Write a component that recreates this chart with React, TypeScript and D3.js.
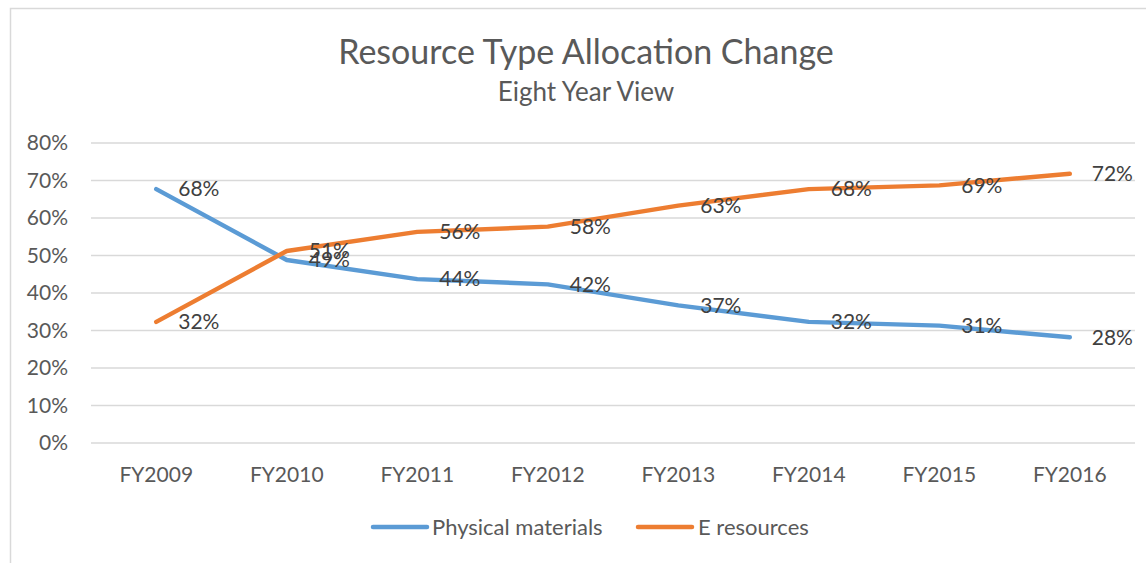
import { useEffect, useRef } from 'react';
import * as d3 from 'd3';

const years = ['FY2009', 'FY2010', 'FY2011', 'FY2012', 'FY2013', 'FY2014', 'FY2015', 'FY2016'];
const physical = [67.7, 48.8, 43.7, 42.3, 36.7, 32.3, 31.3, 28.2];
const eResources = [32.3, 51.2, 56.3, 57.7, 63.3, 67.7, 68.7, 71.8];
const yTicks = [0, 10, 20, 30, 40, 50, 60, 70, 80];
const seriesNames = ['Physical materials', 'E resources'];
const seriesColors = ['#5B9BD5', '#ED7D31'];

const WIDTH = 1146;
const HEIGHT = 563;
const FONT = 'Lato, Carlito, Calibri, sans-serif';

export default function App() {
  const svgRef = useRef<SVGSVGElement>(null);

  useEffect(() => {
    const svg = d3.select(svgRef.current);
    svg.selectAll('*').remove();

    const margin = { top: 143, right: 11, bottom: 120, left: 91 };
    const chartWidth = WIDTH - margin.left - margin.right;
    const chartHeight = HEIGHT - margin.top - margin.bottom;

    // chart frame
    svg.append('rect')
      .attr('x', 10.5)
      .attr('y', 8.5)
      .attr('width', WIDTH + 10)
      .attr('height', HEIGHT + 10)
      .attr('fill', 'white')
      .attr('stroke', '#D9D9D9')
      .attr('stroke-width', 1.5);

    // titles
    svg.append('text')
      .attr('x', 586)
      .attr('y', 64)
      .attr('text-anchor', 'middle')
      .style('font-family', FONT)
      .style('font-size', '34px')
      .attr('fill', '#595959')
      .text('Resource Type Allocation Change');

    svg.append('text')
      .attr('x', 586)
      .attr('y', 101)
      .attr('text-anchor', 'middle')
      .style('font-family', FONT)
      .style('font-size', '26px')
      .attr('fill', '#595959')
      .text('Eight Year View');

    const g = svg.append('g')
      .attr('transform', `translate(${margin.left},${margin.top})`);

    const x = d3.scaleBand<string>()
      .domain(years)
      .range([0, chartWidth]);

    const y = d3.scaleLinear()
      .domain([0, 80])
      .range([chartHeight, 0]);

    // grid lines
    g.selectAll('.grid')
      .data(yTicks)
      .enter()
      .append('line')
      .attr('class', 'grid')
      .attr('x1', 0)
      .attr('x2', chartWidth)
      .attr('y1', d => y(d))
      .attr('y2', d => y(d))
      .attr('stroke', '#D9D9D9')
      .attr('stroke-width', 1.5);

    // y axis labels
    g.selectAll('.ytick')
      .data(yTicks)
      .enter()
      .append('text')
      .attr('class', 'ytick')
      .attr('x', -23)
      .attr('y', d => y(d))
      .attr('dy', '0.35em')
      .attr('text-anchor', 'end')
      .style('font-family', FONT)
      .style('font-size', '21px')
      .attr('fill', '#595959')
      .text(d => `${d}%`);

    // x axis labels
    g.selectAll('.xtick')
      .data(years)
      .enter()
      .append('text')
      .attr('class', 'xtick')
      .attr('x', d => x(d)! + x.bandwidth() / 2)
      .attr('y', chartHeight + 39)
      .attr('text-anchor', 'middle')
      .style('font-family', FONT)
      .style('font-size', '21px')
      .attr('fill', '#595959')
      .text(d => d);

    const line = d3.line<number>()
      .x((d, i) => x(years[i])! + x.bandwidth() / 2)
      .y(d => y(d));

    const allSeries = [physical, eResources];

    allSeries.forEach((values, si) => {
      g.append('path')
        .datum(values)
        .attr('fill', 'none')
        .attr('stroke', seriesColors[si])
        .attr('stroke-width', 4.5)
        .attr('stroke-linecap', 'round')
        .attr('stroke-linejoin', 'round')
        .attr('d', line);
    });

    // data labels (right of each point, like the original)
    allSeries.forEach((values) => {
      g.selectAll(null)
        .data(values)
        .enter()
        .append('text')
        .attr('x', (d, i) => x(years[i])! + x.bandwidth() / 2 + 22)
        .attr('y', d => y(d))
        .attr('dy', '0.35em')
        .style('font-family', FONT)
        .style('font-size', '21px')
        .attr('fill', '#404040')
        .text(d => `${Math.round(d)}%`);
    });

    // legend
    const legendItems = [
      { x: 373, textX: 432 },
      { x: 638, textX: 698 },
    ];
    legendItems.forEach((item, i) => {
      svg.append('line')
        .attr('x1', item.x)
        .attr('x2', item.x + 54)
        .attr('y1', 527)
        .attr('y2', 527)
        .attr('stroke', seriesColors[i])
        .attr('stroke-width', 4.5)
        .attr('stroke-linecap', 'round');
      svg.append('text')
        .attr('x', item.textX)
        .attr('y', 527)
        .attr('dy', '0.35em')
        .style('font-family', FONT)
        .style('font-size', '22px')
        .attr('fill', '#595959')
        .text(seriesNames[i]);
    });
  }, []);

  return (
    <div style={{ position: 'absolute', left: 0, top: 0 }}>
      <svg ref={svgRef} width={WIDTH} height={HEIGHT} style={{ display: 'block' }} />
    </div>
  );
}
